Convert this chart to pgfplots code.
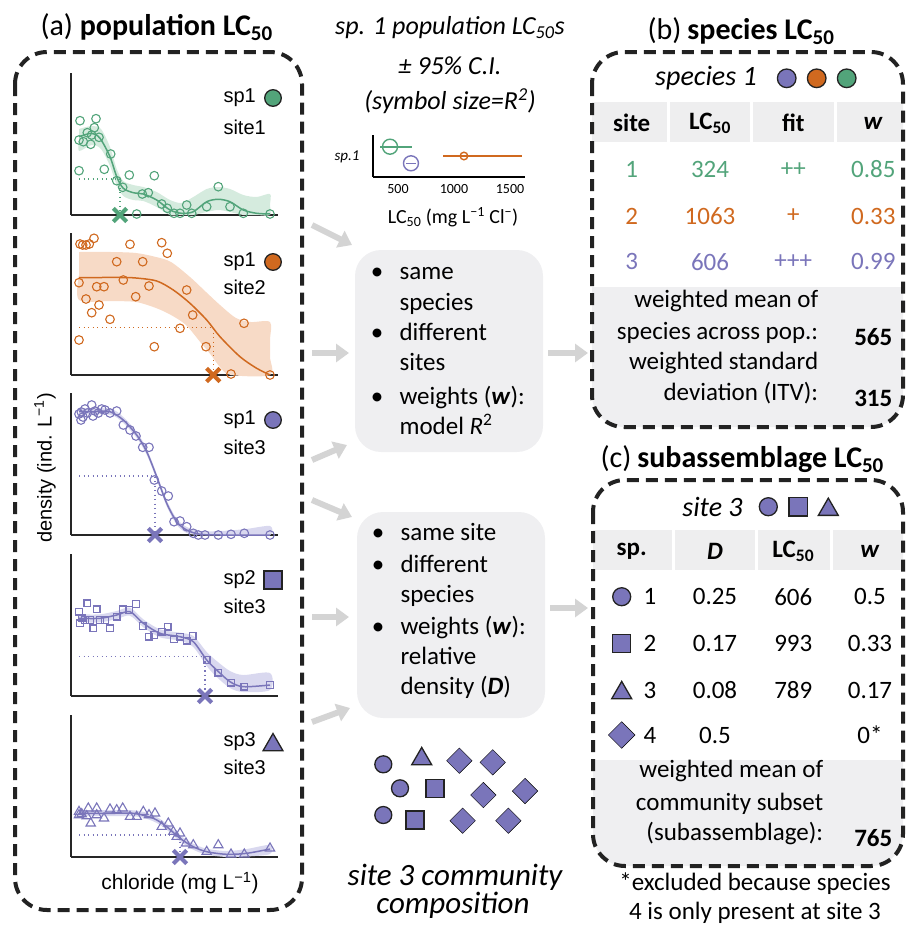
\documentclass[border=0pt]{standalone}
\usepackage{pgfplots}
\pgfplotsset{compat=1.18}
\usetikzlibrary{arrows.meta}
\usepackage{fontspec}
\setmainfont{Carlito}
\newfontfamily\arialf{Liberation Sans}
\definecolor{cgreen}{HTML}{52A47A}
\definecolor{corange}{HTML}{D0691F}
\definecolor{cpurple}{HTML}{7A75BA}
\definecolor{bgreen}{HTML}{D5EBDE}
\definecolor{borange}{HTML}{F7DAC6}
\definecolor{bpurple}{HTML}{D9D8EF}
\definecolor{boxgrey}{HTML}{EFEFF1}
\definecolor{hdrgrey}{HTML}{EEEEEF}
\definecolor{arrowgrey}{HTML}{D4D4D4}
\definecolor{dk}{HTML}{222222}
\newcommand{\fs}[1]{\fontsize{#1}{#1}\selectfont}
\newcommand{\LCf}{LC\textsubscript{50}}
\pgfplotsset{
 mini/.style={anchor=south west, width=207pt, height=142pt, scale only axis,
   xmin=0, xmax=207, ymin=0, ymax=142, axis x line*=bottom, axis y line*=left,
   xtick=\empty, ytick=\empty, clip=false,
   axis line style={line width=1.3pt, color=black!85}},
 pts/.style={only marks, mark options={line width=1.1pt}},
 xm/.style={only marks, mark=x, mark size=9.5pt, mark options={line width=4pt}},
 dotl/.style={line width=1.3pt, dash pattern=on 1.3pt off 3.2pt},
 icon/.style={only marks, mark options={draw=dk, line width=1.3pt}},
}
\begin{document}
\begin{tikzpicture}
\path[use as bounding box] (0,0) rectangle (906pt,-929pt);
\begin{scope}[x=1pt,y=-1pt]
% ---------- panel (a) ----------
\node[anchor=west, font=\fs{30}] at (37,27) {(a) \textbf{population \LCf}};
\draw[dk, line width=4pt, dash pattern=on 12pt off 7pt, rounded corners=32pt] (15,52) rectangle (302,910);
\node[rotate=90, font=\arialf\fs{20}] at (45,468) {density (ind. L\textsuperscript{−1})};
\node[font=\arialf\fs{21}] at (180,883) {chloride (mg L\textsuperscript{−1})};
% ---------- middle ----------
\node[font=\itshape\fs{26}] at (450,28) {sp. 1 population \LCf s};
\node[font=\itshape\fs{26}] at (450,66) {± 95\% C.I.};
\node[font=\itshape\fs{26}] at (450,101) {(symbol size=\textit{R}\textsuperscript{2})};
\node[font=\itshape\fs{15}] at (347,157) {sp.1};
\node[font=\fs{20}] at (453,217) {\LCf{} (mg L\textsuperscript{−1} Cl\textsuperscript{−})};
% arrows
\foreach \a/\b in {{(312,225)}/{(352,245)},{(312,353)}/{(349,353)},{(312,460)}/{(347,445)},{(312,500)}/{(352,517)},{(312,617)}/{(349,617)},{(312,722)}/{(350,708)},{(548,353)}/{(588,353)},{(550,608)}/{(588,608)}}
  \draw[arrowgrey, line width=6pt, -{Triangle[length=13pt,width=18pt]}] \a -- \b;
% grey boxes
\fill[boxgrey, rounded corners=26pt] (355,250) rectangle (543,452);
\fill[boxgrey, rounded corners=26pt] (357,512) rectangle (545,718);
\begin{scope}[font=\fs{25}]
\foreach \y in {276.7,338.3,401.7} \node[anchor=mid] at (377,\y) {•};
\node[anchor=mid west] at (396,276.7) {same};
\node[anchor=mid west] at (396,308.3) {species};
\node[anchor=mid west] at (396,338.3) {different};
\node[anchor=mid west] at (396,368.3) {sites};
\node[anchor=mid west] at (396,401.7) {weights (\textbf{\textit{w}}):};
\node[anchor=mid west] at (396,431.7) {model \textit{R}\textsuperscript{2}};
\foreach \y in {538.3,570,631.7} \node[anchor=mid] at (378,\y) {•};
\node[anchor=mid west] at (397,538.3) {same site};
\node[anchor=mid west] at (397,570) {different};
\node[anchor=mid west] at (397,600) {species};
\node[anchor=mid west] at (397,631.7) {weights (\textbf{\textit{w}}):};
\node[anchor=mid west] at (397,661.7) {relative};
\node[anchor=mid west] at (397,691.7) {density (\textbf{\textit{D}})};
\end{scope}
\node[font=\itshape\fs{31}] at (455,877) {site 3 community};
\node[font=\itshape\fs{31}] at (453,905) {composition};
% ---------- panel (b) ----------
\node[anchor=west, font=\fs{30}] at (644,31) {(b)\hspace{6pt}\textbf{species \LCf}};
\begin{scope}
\clip[rounded corners=32pt] (592,52) rectangle (903,427);
\fill[boxgrey] (585,286.7) rectangle (910,440);
\fill[hdrgrey] (585,101.7) rectangle (910,141.7);
\end{scope}
\foreach \x in {668.3,751.7,835} \draw[white, line width=3pt] (\x,101.7) -- (\x,141.7);
\draw[dk, line width=4pt, dash pattern=on 12pt off 7pt, rounded corners=32pt] (592,52) rectangle (903,427);
\node[font=\itshape\fs{28}] at (706,78) {species 1};
\begin{scope}[font=\bfseries\fs{25}]
\node at (631.7,123) {site};
\node at (710,123) {\LCf};
\node at (793.3,123) {fit};
\node at (873.3,123) {\textit{w}};
\end{scope}
\begin{scope}[font=\fs{25}]
\node[cgreen] at (631.7,169.3) {1};
\node[cgreen] at (710,169.3) {324};
\node[cgreen] at (793.3,169.3) {++};
\node[cgreen] at (873.3,169.3) {0.85};
\node[corange] at (631.7,216) {2};
\node[corange] at (710,216) {1063};
\node[corange] at (793.3,216) {+};
\node[corange] at (873.3,216) {0.33};
\node[cpurple] at (631.7,261.7) {3};
\node[cpurple] at (710,261.7) {606};
\node[cpurple] at (793.3,261.7) {+++};
\node[cpurple] at (873.3,261.7) {0.99};
\node[anchor=mid east] at (821.7,305) {weighted mean of};
\node[anchor=mid east] at (821.7,336.7) {species across pop.:};
\node[anchor=mid east] at (821.7,366.7) {weighted standard};
\node[anchor=mid east] at (821.7,398.3) {deviation (ITV):};
\node[font=\bfseries\fs{25}] at (873.3,336.7) {565};
\node[font=\bfseries\fs{25}] at (873.3,398.3) {315};
\end{scope}
% ---------- panel (c) ----------
\node[anchor=west, font=\fs{30}] at (597,459) {(c)\hspace{6pt}\textbf{subassemblage \LCf}};
\begin{scope}
\clip[rounded corners=32pt] (593,480) rectangle (903,866);
\fill[boxgrey] (585,760) rectangle (910,880);
\fill[hdrgrey] (585,530) rectangle (910,570);
\end{scope}
\foreach \x in {673.3,756.7,831.7} \draw[white, line width=3pt] (\x,530) -- (\x,570);
\draw[dk, line width=4pt, dash pattern=on 12pt off 7pt, rounded corners=32pt] (593,480) rectangle (903,866);
\node[font=\itshape\fs{28}] at (712.5,506.7) {site 3};
\begin{scope}[font=\bfseries\fs{25}]
\node at (631.7,551.7) {sp.};
\node at (715,551.7) {\textit{D}};
\node at (793.3,551.7) {\LCf};
\node at (870,551.7) {\textit{w}};
\end{scope}
\begin{scope}[font=\fs{25}]
\node at (650,596.7) {1}; \node at (715,596.7) {0.25}; \node at (793.3,596.7) {606}; \node at (870,596.7) {0.5};
\node at (650,643.3) {2}; \node at (715,643.3) {0.17}; \node at (793.3,643.3) {993}; \node at (870,643.3) {0.33};
\node at (650,690) {3}; \node at (715,690) {0.08}; \node at (793.3,690) {789}; \node at (870,690) {0.17};
\node at (650,735) {4}; \node at (715,735) {0.5}; \node at (870,735) {0*};
\node[anchor=mid east] at (826.7,775) {weighted mean of};
\node[anchor=mid east] at (826.7,808.3) {community subset};
\node[anchor=mid east] at (826.7,838.3) {(subassemblage):};
\node[font=\bfseries\fs{25}] at (873.3,838.3) {765};
\node[anchor=mid] at (755,888.3) {*excluded because species};
\node[anchor=mid] at (755,916.7) {4 is only present at site 3};
\end{scope}
\end{scope}

% ---------- plot 1 : sp1 site1 ----------
\begin{axis}[mini, at={(71pt,-215pt)}]
\addplot[fill=bgreen, draw=none, smooth] coordinates {(8,86)(20.7,89)(30,86)(39,68)(45.7,46)(52.3,34)(62.3,30)(72.3,28)(85.7,23)(99,15)(110.7,12)(122.3,18)(135.7,26)(147.3,28)(159,26)(172.3,20)(185.7,18)(199,21)
 (199,10)(199,0)(185.7,0)(172.3,0)(159,3)(147.3,5)(135.7,3)(122.3,0)(110.7,0)(99,0)(85.7,8)(72.3,14)(62.3,15)(52.3,19)(45.7,30)(39,49)(30,66)(20.7,70)(8,64)(8,75)} -- cycle;
\addplot[cgreen, line width=1.5pt, smooth] coordinates {(8,78.3)(20.7,81.7)(29,76.7)(39,58.3)(45.7,38.3)(52.3,26.7)(62.3,22.3)(72.3,21)(85.7,15)(99,5)(110.7,1.7)(122.3,3.3)(135.7,13.3)(147.3,15.7)(159,13.3)(172.3,5)(185.7,1.7)(199,1)};
\addplot[cgreen, dotl] coordinates {(8,36)(49,36)(49,0)};
\addplot[cgreen, pts, mark=o, mark size=4.3pt] coordinates {(9,94.3)(25,96.3)(8,75)(12.3,73.3)(16.3,82.3)(20.7,80)(23.3,87.3)(28,77.7)(19.7,70.7)(39.7,61)(8,44.3)(33.3,45.7)(45.7,34.3)(51.7,27.7)(58.3,40)(83.3,39.3)(71.3,21)(77.3,22.3)(90.7,11)(96.3,6.7)(103,1.7)(109,1.7)(115.7,10)(120.7,1.7)(135.7,8.3)(147.3,28.3)(159,8.3)(172.3,1.7)(199,1)(65.7,1)};
\addplot[cgreen, xm] coordinates {(49,0)};
\addplot[icon, mark=*, mark size=8.3pt, fill=cgreen] coordinates {(202,117)};
\node[anchor=west, font=\arialf\fs{20}] at (axis cs:149,117) {sp1};
\node[anchor=west, font=\arialf\fs{20}] at (axis cs:149,88) {site1};
\end{axis}

% ---------- plot 2 : sp1 site2 ----------
\begin{axis}[mini, at={(71pt,-375pt)}]
\addplot[fill=borange, draw=none, smooth] coordinates {(8,123)(40,123)(65,122)(85,118)(100,113)(119,98)(135,83)(149,70)(165,57)(180,53)(199,53)
 (199,35)(199,18)(199,0)(160,0)(149,8)(140,20)(130,32)(115,50)(100,60)(85,67)(65,73)(40,74)(8,75)(8,100)} -- cycle;
\addplot[corange, line width=1.5pt, smooth] coordinates {(8,97.3)(30,97.5)(50,97.5)(65,97)(85.7,94)(102.3,85)(119,71.7)(135.7,55)(149,38.3)(169,18.3)(185.7,6.7)(199,0)};
\addplot[corange, dotl] coordinates {(8,47.7)(142.3,47.7)(142.3,0)};
\addplot[corange, pts, mark=o, mark size=4.3pt] coordinates {(9,131)(11.7,130)(15,130)(18.3,131)(23,136.7)(59,130.7)(90.7,132.3)(96.3,121.7)(45.7,113.3)(71.7,113.3)(8,92.3)(25.7,88.3)(33,88.3)(52.3,95)(78,89)(15,76)(28,70)(20.7,62.3)(64.7,78.3)(39,55.7)(115.7,85)(121.7,60)(173,51.7)(109,46.7)(8,35)(83.3,28.3)(135,28.3)(160,1)(199,0)};
\addplot[corange, xm] coordinates {(142.3,0)};
\addplot[icon, mark=*, mark size=8.3pt, fill=corange] coordinates {(202,113)};
\node[anchor=west, font=\arialf\fs{20}] at (axis cs:149,113) {sp1};
\node[anchor=west, font=\arialf\fs{20}] at (axis cs:149,88) {site2};
\end{axis}

% ---------- plot 3 : sp1 site3 ----------
\begin{axis}[mini, at={(71pt,-535pt)}]
\addplot[fill=bpurple, draw=none, smooth] coordinates {(8,126.3)(39,126.3)(52.3,118)(65.7,103)(75.7,86.3)(85.7,61.3)(95.7,34.7)(105.7,16.3)(115.7,8)(129,4)(150,4)(175,6)(199,9)
 (199,0)(175,0)(150,0)(129,0)(115.7,2)(105.7,10.3)(95.7,28.7)(85.7,55.3)(75.7,80.3)(65.7,97)(52.3,112)(39,120.3)(8,120.3)} -- cycle;
\addplot[cpurple, line width=1.5pt, smooth] coordinates {(8,123.3)(25,123.5)(39,123.3)(52.3,115)(65.7,100)(75.7,83.3)(85.7,58.3)(95.7,31.7)(105.7,13.3)(115.7,5)(129,0.7)(150,0)(199,0)};
\addplot[cpurple, dotl] coordinates {(8,59)(84,59)(84,0)};
\addplot[cpurple, pts, mark=o, mark size=4.3pt] coordinates {(8,121)(10.3,123)(14,126)(16.3,122)(20.7,130)(24,124)(27.3,122)(30.7,126)(34,125)(39,122)(45.7,124)(12,118)(22,119)(10,115)(52.3,110)(59,105)(65,99)(71.7,87.7)(78,87.7)(83.3,55)(90.7,44)(97.3,39)(103,13.3)(109,14)(115.7,8.3)(122.3,1.7)(127.3,0)(134,0)(147.3,0)(160,0.7)(173.3,1.7)(199,0)};
\addplot[cpurple, xm] coordinates {(84,0)};
\addplot[icon, mark=*, mark size=8.3pt, fill=cpurple] coordinates {(202,115)};
\node[anchor=west, font=\arialf\fs{20}] at (axis cs:149,115) {sp1};
\node[anchor=west, font=\arialf\fs{20}] at (axis cs:149,88) {site3};
\end{axis}

% ---------- plot 4 : sp2 site3 ----------
\begin{axis}[mini, at={(71pt,-696pt)}]
\addplot[fill=bpurple, draw=none, smooth] coordinates {(8,81.7)(29,81.7)(45.7,85)(59,88.3)(72.3,76.7)(89,66.7)(109,63.3)(122.3,60)(135.7,44)(145.7,35)(159,25)(172.3,21)(199,23)
 (199,6)(172.3,4)(159,8)(145.7,19)(135.7,30)(122.3,49)(109,55.3)(89,58.7)(72.3,68.7)(59,80.3)(45.7,77)(29,73.7)(8,73.7)} -- cycle;
\addplot[cpurple, line width=1.5pt, smooth] coordinates {(8,77.7)(29,77.7)(45.7,81)(59,84.3)(72.3,72.7)(89,62.7)(109,59.3)(122.3,54.3)(135.7,36)(145.7,26)(159,14.3)(172.3,9.3)(199,11)};
\addplot[cpurple, dotl] coordinates {(8,39.3)(134,39.3)(134,0)};
\addplot[cpurple, pts, mark=square, mark size=3.3pt] coordinates {(8,84.3)(16.3,92.7)(25.7,86.7)(9,72.7)(10.7,77.7)(14,76)(19,76)(22.3,67.7)(29,76)(34,76)(39,67.7)(45.7,79.3)(51.7,86.7)(58.3,86)(65,92)(71.7,70)(78,59.3)(83.3,61)(90.7,64.3)(96.7,69.3)(103,56.7)(109,59.3)(115.7,55.3)(121.7,60)(135.7,36)(147.3,23.3)(160,13.3)(173.3,9.3)(199,11)};
\addplot[cpurple, xm] coordinates {(134,0)};
\addplot[icon, mark=square*, mark size=9pt, fill=cpurple] coordinates {(202,116)};
\node[anchor=west, font=\arialf\fs{20}] at (axis cs:149,116) {sp2};
\node[anchor=west, font=\arialf\fs{20}] at (axis cs:149,90) {site3};
\end{axis}

% ---------- plot 5 : sp3 site3 ----------
\begin{axis}[mini, at={(71pt,-857pt)}]
\addplot[fill=bpurple, draw=none, smooth] coordinates {(8,46.7)(62.3,46.7)(82.3,41.7)(95.7,33.3)(109,21.7)(122.3,13.3)(135.7,8.3)(155.7,6)(175.7,8)(199,12)
 (199,3)(175.7,0.5)(155.7,0)(135.7,2.3)(122.3,7.3)(109,15.7)(95.7,27.3)(82.3,35.7)(62.3,40.7)(8,40.7)} -- cycle;
\addplot[cpurple, line width=1.5pt, smooth] coordinates {(8,43.7)(40,43.7)(62.3,43.7)(82.3,38.7)(95.7,30.3)(109,18.7)(122.3,10.3)(135.7,5.3)(155.7,2.7)(175.7,3.7)(199,8)};
\addplot[cpurple, dotl] coordinates {(8,22)(109,22)(109,0)};
\addplot[cpurple, pts, mark=triangle, mark size=5.4pt] coordinates {(8,45.3)(10.7,43)(17.3,48.7)(25.7,48.7)(8,42)(15.7,41)(19.7,33.7)(25.7,42)(33,38.7)(39,47.7)(45.7,47)(51.7,48.7)(59,40.3)(65.7,40.3)(72.3,45.3)(78,42)(84,43.7)(90.7,30.3)(97.3,33.7)(102.3,25.3)(109,23.7)(105.7,20.3)(115,13.7)(122.3,12)(135.7,5.3)(147.3,12)(160,2.7)(173.3,2.7)(199,8.7)};
\addplot[cpurple, xm] coordinates {(109,0)};
\addplot[icon, mark=triangle*, mark size=11.5pt, fill=cpurple] coordinates {(202,112)};
\node[anchor=west, font=\arialf\fs{20}] at (axis cs:149,115) {sp3};
\node[anchor=west, font=\arialf\fs{20}] at (axis cs:149,90) {site3};
\end{axis}

% ---------- sp.1 LC50 summary plot ----------
\begin{axis}[at={(373pt,-176.7pt)}, anchor=south west, width=152pt, height=42pt, scale only axis,
  xmin=277, xmax=1634, ymin=0, ymax=42, axis x line*=bottom, axis y line*=left,
  xtick={500,1000,1500}, xticklabels={500,1000,1500}, ytick=\empty, major tick length=0pt,
  xticklabel style={font=\fs{14}, yshift=-4pt}, clip=false,
  axis line style={line width=2pt, color=black}]
\addplot[cgreen, only marks, mark=o, mark size=7.5pt, mark options={line width=1.4pt},
  error bars/.cd, x dir=both, x explicit, error mark=none, error bar style={line width=1.6pt, cgreen}]
  coordinates {(429,30) += (193,0) -= (90,0)};
\addplot[cpurple, only marks, mark=o, mark size=7.5pt, mark options={line width=1.4pt},
  error bars/.cd, x dir=both, x explicit, error mark=none, error bar style={line width=1.6pt, cpurple}]
  coordinates {(616,13.4) += (45,0) -= (45,0)};
\addplot[corange, only marks, mark=o, mark size=3.8pt, mark options={line width=1.4pt},
  error bars/.cd, x dir=both, x explicit, error mark=none, error bar style={line width=1.6pt, corange}]
  coordinates {(1089,20.7) += (515,0) -= (184,0)};
\end{axis}

% ---------- symbol icons and community composition ----------
\begin{axis}[at={(0pt,0pt)}, anchor=north west, width=906pt, height=929pt, scale only axis,
  xmin=0, xmax=906, ymin=0, ymax=929, y dir=reverse, hide axis, clip=false]
\addplot[icon, mark=*, mark size=8.5pt, fill=cpurple] coordinates {(383.3,764.3)(400,788.3)(383.3,815)};
\addplot[icon, mark=triangle*, mark size=11.5pt, fill=cpurple] coordinates {(421.7,758.9)};
\addplot[icon, mark=square*, mark size=9pt, fill=cpurple] coordinates {(435,788.3)(415,820)};
\addplot[icon, mark=square*, mark size=9pt, fill=cpurple, mark options={rotate=45}] coordinates {(459.3,760.7)(492.7,762.3)(483.3,795)(525,791)(462.7,820.7)(508.3,820.7)};
% (b) header icons
\addplot[icon, mark=*, mark size=9.3pt, fill=cpurple] coordinates {(786.7,78.3)};
\addplot[icon, mark=*, mark size=9.3pt, fill=corange] coordinates {(816.7,78.3)};
\addplot[icon, mark=*, mark size=9.3pt, fill=cgreen] coordinates {(846.7,78.3)};
% (c) header icons
\addplot[icon, mark=*, mark size=9pt, fill=cpurple] coordinates {(768.3,506.7)};
\addplot[icon, mark=square*, mark size=9.3pt, fill=cpurple] coordinates {(798.3,506.7)};
\addplot[icon, mark=triangle*, mark size=11.5pt, fill=cpurple] coordinates {(828.3,509.6)};
% (c) row icons
\addplot[icon, mark=*, mark size=9pt, fill=cpurple] coordinates {(621.7,596.7)};
\addplot[icon, mark=square*, mark size=9pt, fill=cpurple] coordinates {(621.7,643.3)};
\addplot[icon, mark=triangle*, mark size=11.5pt, fill=cpurple] coordinates {(621.7,692.9)};
\addplot[icon, mark=square*, mark size=9.4pt, fill=cpurple, mark options={rotate=45}] coordinates {(621.7,735)};
\end{axis}
\end{tikzpicture}
\end{document}
